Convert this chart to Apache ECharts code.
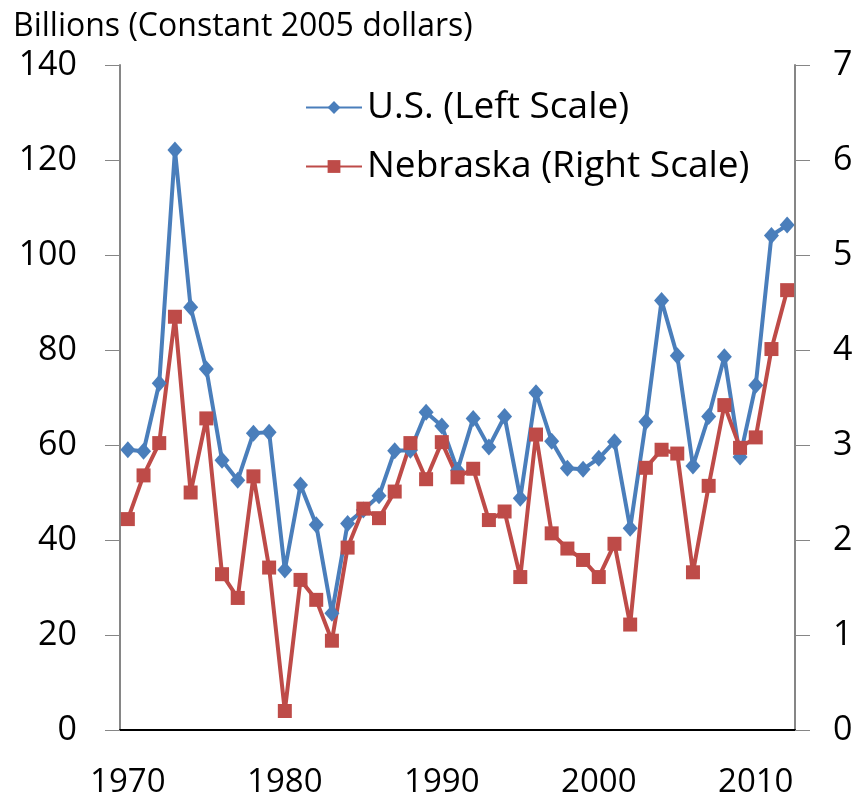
<!DOCTYPE html>
<html>
<head>
<meta charset="utf-8">
<script src="https://cdn.jsdelivr.net/npm/echarts@6/dist/echarts.min.js"></script>
<style>
  html, body { margin: 0; padding: 0; background: #fff; }
  #chart { width: 858px; height: 806px; }
</style>
</head>
<body>
<div id="chart"></div>
<script>
// years 1970..2012
const years = ['1970','1971','1972','1973','1974','1975','1976','1977','1978','1979',
  '1980','1981','1982','1983','1984','1985','1986','1987','1988','1989',
  '1990','1991','1992','1993','1994','1995','1996','1997','1998','1999',
  '2000','2001','2002','2003','2004','2005','2006','2007','2008','2009',
  '2010','2011','2012'];

// U.S., billions (left scale)
const usValues = [59.0, 58.7, 73.0, 122.1, 89.0, 76.0, 56.8, 52.6, 62.5, 62.7,
  33.7, 51.6, 43.2, 24.6, 43.5, 46.3, 49.3, 58.8, 58.9, 66.9,
  64.0, 54.7, 65.6, 59.6, 66.0, 48.8, 71.0, 60.8, 55.1, 54.9,
  57.2, 60.7, 42.5, 64.9, 90.4, 78.8, 55.6, 66.0, 78.6, 57.5,
  72.6, 104.1, 106.3];

// Nebraska, billions (right scale)
const nebValues = [2.22, 2.68, 3.02, 4.35, 2.50, 3.28, 1.64, 1.39, 2.67, 1.71,
  0.20, 1.58, 1.37, 0.94, 1.92, 2.33, 2.23, 2.51, 3.02, 2.64,
  3.03, 2.66, 2.75, 2.21, 2.30, 1.61, 3.11, 2.07, 1.91, 1.79,
  1.61, 1.96, 1.11, 2.76, 2.95, 2.91, 1.66, 2.57, 3.42, 2.97,
  3.08, 4.01, 4.63];

const FONT = '"Open Sans", "Noto Sans", sans-serif';
const axisGray = '#868686';

const chart = echarts.init(document.getElementById('chart'));
chart.setOption({
  animation: false,
  backgroundColor: '#ffffff',
  textStyle: { fontFamily: FONT },
  title: {
    text: 'Billions (Constant 2005 dollars)',
    left: 8,
    top: 6,
    textStyle: { fontFamily: FONT, fontSize: 32, fontWeight: 'normal', color: '#000' }
  },
  legend: {
    orient: 'vertical',
    left: 300,
    top: 84,
    itemWidth: 56,
    itemHeight: 16,
    itemGap: 22,
    textStyle: { fontFamily: FONT, fontSize: 37, color: '#000' },
    data: ['U.S. (Left Scale)', 'Nebraska (Right Scale)']
  },
  grid: { left: 120, right: 63, top: 65, bottom: 76, containLabel: false },
  xAxis: [
    {
      type: 'category',
      data: years,
      boundaryGap: true,
      axisLine: { lineStyle: { color: axisGray, width: 2 } },
      axisTick: { interval: 4, length: 14, lineStyle: { color: axisGray, width: 1 } },
      axisLabel: { interval: 9, fontSize: 33, color: '#000', margin: 36, fontFamily: FONT },
      splitLine: { show: false }
    },
    {
      type: 'category',
      data: years,
      position: 'top',
      boundaryGap: true,
      axisLine: { lineStyle: { color: '#000', width: 2 } },
      axisTick: { show: false },
      axisLabel: { show: false },
      splitLine: { show: false }
    }
  ],
  yAxis: [
    {
      type: 'value',
      min: 0,
      max: 140,
      interval: 20,
      axisLine: { show: true, lineStyle: { color: axisGray, width: 2 } },
      axisTick: { show: true, length: 15, lineStyle: { color: axisGray, width: 1 } },
      axisLabel: { fontSize: 34, color: '#000', margin: 43, fontFamily: FONT },
      splitLine: { show: false }
    },
    {
      type: 'value',
      min: 0,
      max: 7,
      interval: 1,
      position: 'right',
      axisLine: { show: true, lineStyle: { color: axisGray, width: 2 } },
      axisTick: { show: true, length: 15, lineStyle: { color: axisGray, width: 1 } },
      axisLabel: { fontSize: 34, color: '#000', margin: 38, fontFamily: FONT },
      splitLine: { show: false }
    }
  ],
  series: [
    {
      name: 'U.S. (Left Scale)',
      type: 'line',
      xAxisIndex: 0,
      yAxisIndex: 0,
      data: usValues,
      symbol: 'diamond',
      symbolSize: [15, 17],
      showAllSymbol: true,
      lineStyle: { color: '#4A7EBB', width: 4 },
      itemStyle: { color: '#4A7EBB' }
    },
    {
      name: 'Nebraska (Right Scale)',
      type: 'line',
      xAxisIndex: 0,
      yAxisIndex: 1,
      data: nebValues,
      symbol: 'rect',
      symbolSize: 14,
      showAllSymbol: true,
      lineStyle: { color: '#BE4B48', width: 4 },
      itemStyle: { color: '#BE4B48' }
    }
  ]
});
</script>
</body>
</html>
